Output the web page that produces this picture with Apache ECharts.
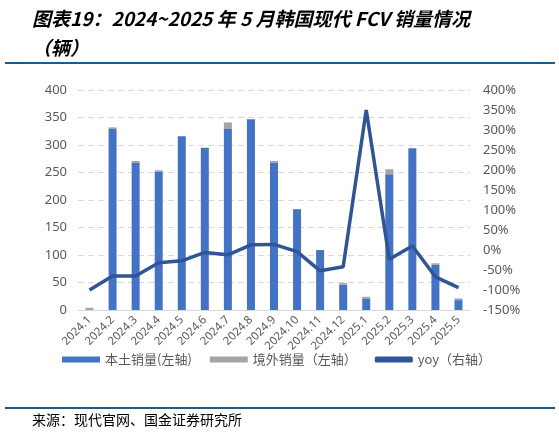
<!DOCTYPE html>
<html>
<head>
<meta charset="utf-8">
<script src="https://cdn.jsdelivr.net/npm/echarts@6/dist/echarts.min.js"></script>
<style>
  html, body { margin: 0; padding: 0; background: #fff; }
  #chart { width: 559px; height: 436px; }
</style>
</head>
<body>
<div id="chart"></div>
<script>
var months = ['2024.1','2024.2','2024.3','2024.4','2024.5','2024.6','2024.7','2024.8','2024.9',
              '2024.10','2024.11','2024.12','2025.1','2025.2','2025.3','2025.4','2025.5'];
var domestic = [0, 329, 268, 251, 316, 295, 329, 347, 268, 183, 109, 46, 21, 247, 294, 82, 18];
var overseas = [4, 3, 3, 3, 0, 0, 12, 0, 3, 0, 0, 3, 3, 9, 0, 3, 3];
var yoy = [-100, -65, -65, -32, -27, -6, -12, 13, 14, -4, -52, -42, 350, -23, 10, -67, -94];

var grey = '#595959';
var font = '"Noto Sans", "Noto Sans CJK SC", sans-serif';

var chart = echarts.init(document.getElementById('chart'));
chart.setOption({
  animation: false,
  textStyle: { fontFamily: font },
  grid: { left: 78, right: 89, top: 90, bottom: 126 },
  legend: {
    left: 57, top: 348,
    itemGap: 18,
    textStyle: { color: grey, fontSize: 13, fontFamily: '"Noto Sans CJK SC", sans-serif' },
    data: [
      { name: '本土销量(左轴)', icon: 'rect', itemStyle: { color: '#4472C4' } },
      { name: '境外销量（左轴）', icon: 'rect', itemStyle: { color: '#A5A5A5' } },
      { name: 'yoy（右轴）', icon: 'roundRect', itemStyle: { color: '#2F5597' } }
    ],
    itemWidth: 38, itemHeight: 6
  },
  xAxis: {
    type: 'category',
    data: months,
    axisLine: { lineStyle: { color: '#D9D9D9', width: 1 } },
    axisTick: { show: false },
    axisLabel: { rotate: 45, color: grey, fontSize: 11.5, interval: 0, margin: 8 }
  },
  yAxis: [
    {
      type: 'value', min: 0, max: 400, interval: 50,
      axisLabel: { color: grey, fontSize: 13, margin: 11 },
      axisLine: { show: false }, axisTick: { show: false },
      splitLine: { lineStyle: { color: '#D9D9D9', type: [6, 4] } }
    },
    {
      type: 'value', min: -150, max: 400, interval: 50,
      axisLabel: { color: grey, fontSize: 13, margin: 13, formatter: '{value}%' },
      axisLine: { show: false }, axisTick: { show: false },
      splitLine: { show: false }
    }
  ],
  series: [
    {
      name: '本土销量(左轴)', type: 'bar', stack: 'sales', data: domestic,
      barWidth: 8, itemStyle: { color: '#4472C4' }
    },
    {
      name: '境外销量（左轴）', type: 'bar', stack: 'sales', data: overseas,
      barWidth: 8, itemStyle: { color: '#A5A5A5' }
    },
    {
      name: 'yoy（右轴）', type: 'line', yAxisIndex: 1, data: yoy,
      symbol: 'none', lineStyle: { color: '#2F5597', width: 3.5 },
      itemStyle: { color: '#2F5597' }
    }
  ],
  graphic: [
    {
      type: 'text', left: 32, top: 4,
      style: {
        text: '图表19：2024~2025 年 5 月韩国现代 FCV 销量情况\n（辆）',
        fill: '#000', font: 'italic bold 19px "Noto Sans CJK SC", sans-serif',
        lineHeight: 29
      }
    },
    {
      type: 'rect', shape: { x: 5, y: 62, width: 550, height: 2 },
      style: { fill: '#1F5C85' }
    },
    {
      type: 'rect', shape: { x: 5, y: 407, width: 550, height: 2 },
      style: { fill: '#1F5C85' }
    },
    {
      type: 'text', left: 32, top: 413,
      style: {
        text: '来源：现代官网、国金证券研究所',
        fill: '#000', font: '14px "Noto Sans CJK SC", sans-serif'
      }
    }
  ]
});
</script>
</body>
</html>
